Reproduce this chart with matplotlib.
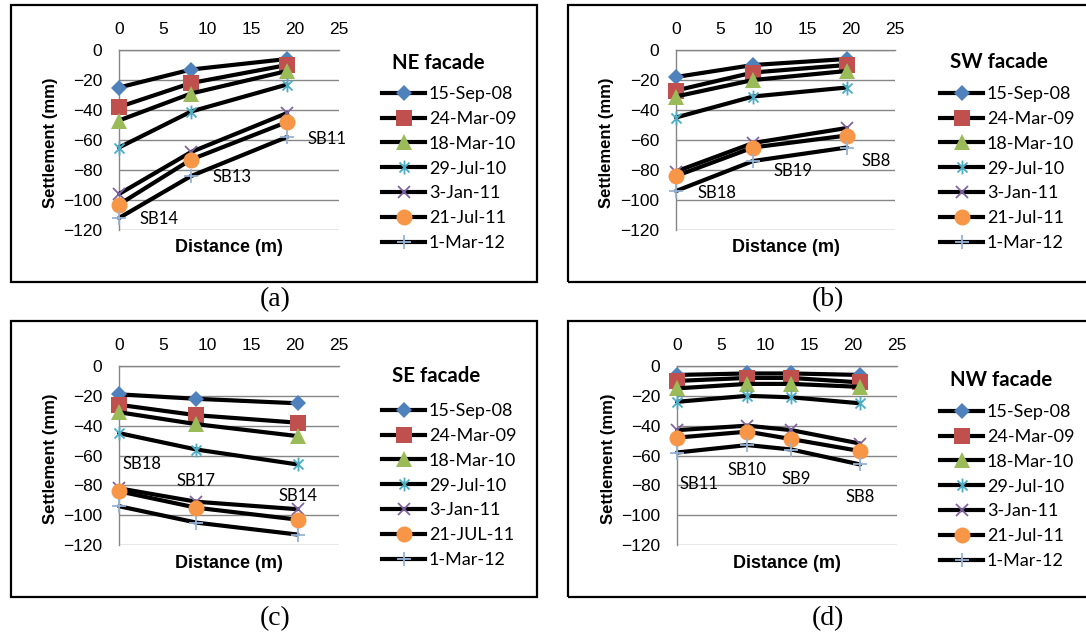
import matplotlib
matplotlib.use("Agg")
import matplotlib.pyplot as plt
from matplotlib.lines import Line2D
from matplotlib.path import Path

# ---------------- data ----------------
dates = ["15-Sep-08", "24-Mar-09", "18-Mar-10", "29-Jul-10", "3-Jan-11", "21-Jul-11", "1-Mar-12"]
dates_c = ["15-Sep-08", "24-Mar-09", "18-Mar-10", "29-Jul-10", "3-Jan-11", "21-JUL-11", "1-Mar-12"]

ne_x = [0, 8.2, 19.1]
ne_y = [
    [-25, -13, -6],
    [-38, -22, -10],
    [-47, -29, -14],
    [-65, -41, -23],
    [-96, -68, -42],
    [-103, -73, -48],
    [-112, -84, -58],
]
ne_labels = ["SB14", "SB13", "SB11"]

sw_x = [0, 8.8, 19.5]
sw_y = [
    [-18, -10, -6],
    [-27, -15, -10],
    [-31, -20, -14],
    [-45, -31, -25],
    [-81, -62, -52],
    [-84, -65, -57],
    [-94, -74, -65],
]
sw_labels = ["SB18", "SB19", "SB8"]

se_x = [0, 8.8, 20.3]
se_y = [
    [-19, -22, -25],
    [-26, -33, -38],
    [-31, -39, -47],
    [-45, -56, -66],
    [-82, -91, -96],
    [-84, -95, -103],
    [-94, -105, -113],
]
se_labels = ["SB18", "SB17", "SB14"]

nw_x = [0, 8.0, 13.0, 20.8]
nw_y = [
    [-6, -5, -5, -6],
    [-10, -8, -8, -11],
    [-15, -12, -12, -14],
    [-24, -20, -21, -25],
    [-43, -40, -43, -52],
    [-48, -44, -49, -57],
    [-58, -53, -56, -66],
]
nw_labels = ["SB11", "SB10", "SB9", "SB8"]

titles = ["NE facade", "SW facade", "SE facade", "NW facade"]
sublabels = ["(a)", "(b)", "(c)", "(d)"]

# label positions (data coords) for SB annotations
ne_lab_pos = [(4.5, -113), (12.8, -85), (23.6, -59)]
sw_lab_pos = [(4.7, -95), (13.4, -81), (22.9, -74)]
se_lab_pos = [(2.6, -66), (8.75, -77), (20.3, -87)]
nw_lab_pos = [(2.5, -79), (8.0, -70), (13.5, -76), (20.8, -88)]

# ---------------- styles ----------------
W, H = 1086, 639
DPI = 100
star = Path([(0, -1), (0, 1), (-0.72, -0.72), (0.72, 0.72), (-0.72, 0.72), (0.72, -0.72)],
            [Path.MOVETO, Path.LINETO, Path.MOVETO, Path.LINETO, Path.MOVETO, Path.LINETO])
colors = ["#4F81BD", "#C0504D", "#9BBB59", "#4BACC6", "#8064A2", "#F79646", "#95B3D7"]
markers = ["D", "s", "^", star, "x", "o", "+"]
msizes = [8, 11, 11, 10, 9, 11.5, 10]
mews = [0, 0, 0, 1.3, 1.3, 0, 1.3]

TICK_FONT = "Liberation Sans"
LEG_FONT = "Lato"
SERIF = "Liberation Serif"

fig = plt.figure(figsize=(W / DPI, H / DPI), dpi=DPI)


def px_axes(x0, y0, x1, y1):
    return fig.add_axes([x0 / W, 1 - y1 / H, (x1 - x0) / W, (y1 - y0) / H])


def box(x0, y0, x1, y1):
    r = plt.Rectangle((x0 / W, 1 - y1 / H), (x1 - x0) / W, (y1 - y0) / H,
                      transform=fig.transFigure, fill=False, edgecolor="black",
                      linewidth=1.6, zorder=0)
    fig.add_artist(r)


panels = [
    dict(xs=ne_x, ys=ne_y, labs=ne_labels, lpos=ne_lab_pos, names=dates,
         box=(11, 5, 537, 282), ax=(119, 50, 339, 230), leg=(382, 63, 92)),
    dict(xs=sw_x, ys=sw_y, labs=sw_labels, lpos=sw_lab_pos, names=dates,
         box=(568, 5, 1090, 282), ax=(676, 50, 895, 230), leg=(940, 62, 92)),
    dict(xs=se_x, ys=se_y, labs=se_labels, lpos=se_lab_pos, names=dates_c,
         box=(11, 321, 537, 597), ax=(119, 366, 339, 545), leg=(382, 376, 409)),
    dict(xs=nw_x, ys=nw_y, labs=nw_labels, lpos=nw_lab_pos, names=dates,
         box=(568, 321, 1090, 597), ax=(677, 366, 897, 545), leg=(940, 380, 410)),
]
sub_pos = [(275, 300), (828, 300), (275, 619), (828, 619)]

for i, p in enumerate(panels):
    box(*p["box"])
    ax = px_axes(*p["ax"])
    ax.set_xlim(0, 25)
    ax.set_ylim(-120, 0)
    ax.set_xticks([0, 5, 10, 15, 20, 25])
    ax.set_yticks([-120, -100, -80, -60, -40, -20, 0])
    ax.xaxis.tick_top()
    ax.tick_params(length=0, labelsize=12.5)
    ax.tick_params(axis="x", pad=9)
    ax.tick_params(axis="y", pad=12)
    for lab in ax.get_xticklabels() + ax.get_yticklabels():
        lab.set_fontfamily(TICK_FONT)
    for s in ["right", "bottom"]:
        ax.spines[s].set_visible(False)
    ax.spines["top"].set_color("#868686")
    ax.spines["left"].set_color("#868686")
    ax.spines["top"].set_linewidth(1.0)
    ax.spines["left"].set_linewidth(1.0)
    ax.yaxis.grid(True, color="#868686", linewidth=1.0)
    ax.set_axisbelow(True)
    ax.patch.set_alpha(0)

    for k in range(7):
        ax.plot(p["xs"], p["ys"][k], color="black", linewidth=3.0,
                marker=markers[k], markersize=msizes[k], markerfacecolor=colors[k],
                markeredgecolor=colors[k], markeredgewidth=mews[k],
                clip_on=False, zorder=3 + k, solid_capstyle="round")

    for t, (lx, ly) in zip(p["labs"], p["lpos"]):
        ax.text(lx, ly, t, fontsize=12, family=LEG_FONT, ha="center", va="center",
                zorder=20)

    x0, y0, x1, y1 = p["ax"]
    fig.text(((x0 + x1) / 2) / W, 1 - 247 / H if i < 2 else 1 - 563 / H,
             "Distance (m)", fontsize=13, fontweight="bold", family=TICK_FONT,
             ha="center", va="center")
    fig.text((x0 - 69) / W, 1 - ((y0 + y1) / 2 + 3) / H, "Settlement (mm)",
             fontsize=12, fontweight="bold", family=TICK_FONT, rotation=90,
             ha="center", va="center")

    # legend
    lx, ty, ey = p["leg"]
    fig.text((lx + 10) / W, 1 - ty / H, titles[i], fontsize=14.7, fontweight="bold",
             family=LEG_FONT, ha="left", va="center")
    handles = [Line2D([], [], color="black", linewidth=3.0, marker=markers[k],
                      markersize=msizes[k], markerfacecolor=colors[k],
                      markeredgecolor=colors[k], markeredgewidth=mews[k])
               for k in range(7)]
    fig.legend(handles, p["names"], loc="upper left",
               bbox_to_anchor=(lx / W, 1 - (ey - 6) / H),
               frameon=False, borderpad=0, borderaxespad=0,
               handlelength=2.4, handletextpad=0.2, labelspacing=0.49,
               prop=dict(family=LEG_FONT, size=13))

    fig.text(sub_pos[i][0] / W, 1 - sub_pos[i][1] / H, sublabels[i], fontsize=20,
             family=SERIF, ha="center", va="center")

fig.savefig("out.png", dpi=DPI)
